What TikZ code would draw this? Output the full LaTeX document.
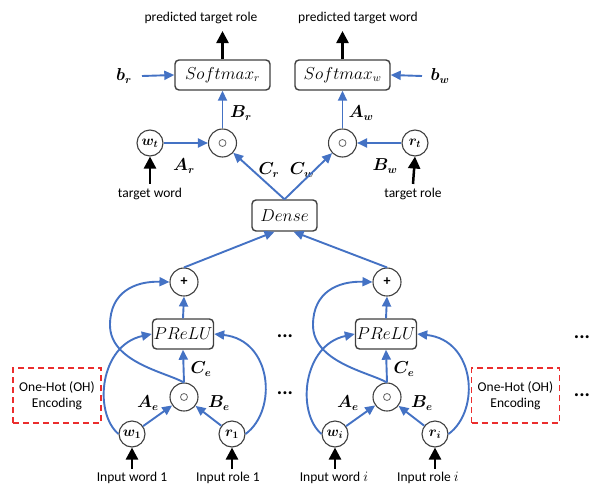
\documentclass[tikz,border=0pt]{standalone}
\usepackage{fontspec}
\usepackage{bm}
\setmainfont{Carlito}
\usetikzlibrary{arrows.meta,calc}
\definecolor{bl}{RGB}{68,114,196}
\definecolor{rd}{RGB}{235,45,45}
\tikzset{
  barr/.style={draw=bl, line width=1.9pt, -{Triangle[width=9pt,length=10pt]}},
  karr/.style={draw=black, line width=2.5pt, -{Triangle[width=12pt,length=12pt]}},
  circ/.style={circle, draw=black!75, line width=1.1pt, minimum size=28pt, inner sep=0pt, fill=white},
  scirc/.style={circ, minimum size=26pt, font=\fontsize{14}{14}\selectfont},
  vbox/.style={rounded corners=4pt, draw=black!75, line width=1.4pt, fill=white, inner sep=0pt, font=\fontsize{16}{16}\selectfont},
  txt/.style={font=\fontsize{13.5}{15}\selectfont, inner sep=0pt},
  lbl/.style={font=\fontsize{16}{16}\selectfont, inner sep=0pt},
  ohbox/.style={draw=rd, dashed, dash pattern=on 6pt off 4pt, line width=1.6pt, minimum width=88pt, minimum height=55pt, align=center, font=\fontsize{13.5}{16}\selectfont},
  dots/.style={font=\fontsize{20}{20}\selectfont\bfseries, inner sep=0pt}
}
\begin{document}
\begin{tikzpicture}[x=1pt,y=-1pt]
\useasboundingbox (0,0) rectangle (589,485);
% top
\node[txt] (predr) at (201,18) {predicted target role};
\node[txt] (predw) at (358,18) {predicted target word};
\coordinate (tr) at (222.5,31);
\coordinate (tw) at (342.5,31);
\node[vbox, minimum width=95pt, minimum height=30pt] (smr) at (222.5,75) {$Softmax_r$};
\node[vbox, minimum width=95pt, minimum height=30pt] (smw) at (342.5,75) {$Softmax_w$};
\node[lbl] (br) at (124,76) {$\bm{b_r}$};
\node[lbl] (bw) at (440,76) {$\bm{b_w}$};
\node[circ] (or) at (222.5,143) {};
\node[circ] (ow) at (342.5,143) {};
\draw[black!60, line width=0.8pt] (or) circle (3.5pt) (ow) circle (3.5pt);
\node[scirc] (wt) at (150,143) {$\bm{w_t}$};
\node[scirc] (rt) at (415,143) {$\bm{r_t}$};
\node[txt] (twl) at (150,194) {target word};
\node[txt] (trl) at (413,194) {target role};
\node[vbox, minimum width=65pt, minimum height=31pt] (dense) at (284.5,215.5) {$Dense$};
\node[lbl] at (241,113) {$\bm{B_r}$};
\node[lbl] at (361,113) {$\bm{A_w}$};
\node[lbl] at (184,166) {$\bm{A_r}$};
\node[lbl] at (385,166) {$\bm{B_w}$};
\node[lbl] at (269,170) {$\bm{C_r}$};
\node[lbl] at (302,170) {$\bm{C_w}$};
\draw[karr] (smr.north) -- (tr);
\draw[karr] (smw.north) -- (tw);
\draw[barr] (br) ++(18,0) -- (smr.west);
\draw[barr] (bw) ++(-18,0) -- (smw.east);
\draw[barr] (or.north) -- (smr.south);
\draw[barr] (ow.north) -- (smw.south);
\draw[barr] (wt) -- (or);
\draw[barr] (rt) -- (ow);
\draw[karr] (twl.north) ++(0,-4) -- (wt.south);
\draw[karr] (trl.north) ++(0,-4) -- (rt.south);
\draw[barr] (dense.north) -- (or);
\draw[barr] (dense.north) -- (ow);
% module 1
\node[circ, font=\bfseries\fontsize{14}{14}\selectfont] (p1) at (184,282) {+};
\node[vbox, minimum width=61pt, minimum height=30pt] (pr1) at (183,334) {$PReLU$};
\node[circ] (o1) at (184,397) {};
\draw[black!60, line width=0.8pt] (o1) circle (3.5pt);
\node[scirc] (w1) at (132,434) {$\bm{w_1}$};
\node[scirc] (r1) at (232,434) {$\bm{r_1}$};
\node[txt] (iw1) at (132,478) {Input word 1};
\node[txt] (ir1) at (228,478) {Input role 1};
\node[lbl] at (148,403) {$\bm{A_e}$};
\node[lbl] at (219,403) {$\bm{B_e}$};
\node[lbl] at (201,369) {$\bm{C_e}$};
\draw[karr] (iw1.north) ++(0,-3) -- (w1.south);
\draw[karr] (ir1.north -| r1) ++(0,-3) -- (r1.south);
\draw[barr] (w1) -- (o1);
\draw[barr] (r1) -- (o1);
\draw[barr] (o1.north) -- (pr1.south);
\draw[barr] (pr1.north) -- (p1.south);
\draw[barr] (w1.west) .. controls (93,412) and (100,345) .. (pr1.west);
\draw[barr] (r1.east) .. controls (278,410) and (272,340) .. (pr1.east);
\draw[barr] (o1.north) .. controls (165,372) and (110,362) .. (110,325) .. controls (110,292) and (135,281) .. (p1.west);
\draw[barr] (p1.north) -- ($(dense.south)+(-10,0)$);
% module 2
\node[circ, font=\bfseries\fontsize{14}{14}\selectfont] (p2) at (387,282) {+};
\node[vbox, minimum width=61pt, minimum height=30pt] (pr2) at (386,334) {$PReLU$};
\node[circ] (o2) at (387,397) {};
\draw[black!60, line width=0.8pt] (o2) circle (3.5pt);
\node[scirc] (w2) at (335,434) {$\bm{w_i}$};
\node[scirc] (r2) at (435,434) {$\bm{r_i}$};
\node[txt] (iw2) at (334,478) {Input word $i$};
\node[txt] (ir2) at (428,478) {Input role $i$};
\node[lbl] at (348,403) {$\bm{A_e}$};
\node[lbl] at (422,403) {$\bm{B_e}$};
\node[lbl] at (404,369) {$\bm{C_e}$};
\draw[karr] (iw2.north -| w2) ++(0,-3) -- (w2.south);
\draw[karr] (ir2.north -| r2) ++(0,-3) -- (r2.south);
\draw[barr] (w2) -- (o2);
\draw[barr] (r2) -- (o2);
\draw[barr] (o2.north) -- (pr2.south);
\draw[barr] (pr2.north) -- (p2.south);
\draw[barr] (w2.west) .. controls (296,412) and (303,345) .. (pr2.west);
\draw[barr] (r2.east) .. controls (481,410) and (475,340) .. (pr2.east);
\draw[barr] (o2.north) .. controls (368,372) and (313,362) .. (313,325) .. controls (313,292) and (338,281) .. (p2.west);
\draw[barr] (p2.north) -- ($(dense.south)+(9,0)$);
% OH boxes and dots
\node[ohbox] (oh1) at (57,395.5) {One-Hot (OH)\\Encoding};
\node[ohbox] (oh2) at (515.5,395.5) {One-Hot (OH)\\Encoding};
\node[dots] (d1) at (285,336) {...};
\node[dots] (d2) at (285,393) {...};
\node[dots] (d3) at (582,337) {...};
\node[dots] (d4) at (582,395) {...};
\end{tikzpicture}
\end{document}
